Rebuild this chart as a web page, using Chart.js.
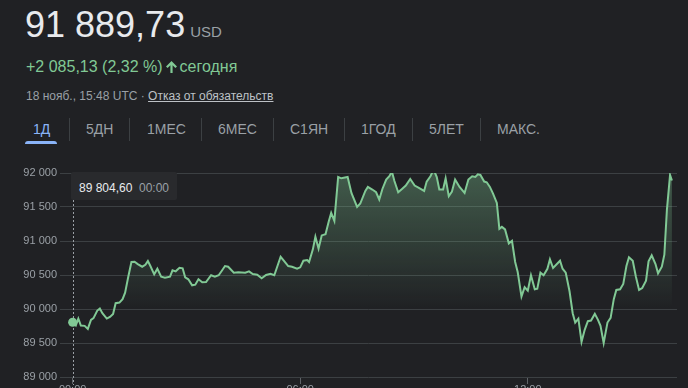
<!DOCTYPE html>
<html lang="ru">
<head>
<meta charset="utf-8">
<script src="https://cdn.jsdelivr.net/npm/chart.js@4.4.1/dist/chart.umd.min.js"></script>
<style>
  html, body { margin: 0; padding: 0; background: #202124; width: 688px; height: 388px; overflow: hidden; }
  body { position: relative; font-family: Arial, "Liberation Sans", sans-serif; }
  .abs { position: absolute; white-space: nowrap; }
  #price { left: 25px; top: 7px; font-size: 36px; line-height: 36px; color: #e8eaed; }
  #price .cur { font-size: 15px; color: #9aa0a6; margin-left: 5px; }
  #change { left: 26px; top: 59px; font-size: 16px; line-height: 16px; color: #81c995; }
  #change svg { vertical-align: -1px; margin: 0 3px 0 3px; }
  #meta { left: 26px; top: 90px; font-size: 12px; line-height: 12px; color: #9aa0a6; }
  #meta a { color: #bdc1c6; text-decoration: underline; }
  .tab { top: 122px; font-size: 14px; line-height: 14px; color: #9aa0a6; }
  .tab.active { color: #8ab4f8; }
  .sep { top: 118px; width: 1px; height: 23px; background: #3c4043; }
  #underline { left: 25px; top: 141px; width: 32px; height: 3px; background: #8ab4f8; border-radius: 3px 3px 0 0; }
  #tip { left: 71px; top: 172px; width: 106px; height: 28px; background: #292a2d; border-radius: 2px; }
  #tip span { position: absolute; top: 10px; font-size: 12px; line-height: 12px; }
  #chartBox { position: absolute; left: 0; top: 150px; width: 688px; height: 250px; }
</style>
</head>
<body>
  <div id="price" class="abs">91 889,73<span class="cur">USD</span></div>
  <div id="change" class="abs">+2 085,13 (2,32 %)<svg width="11" height="12" viewBox="0 0 11 12"><path d="M5.5 0 L11 5.5 L9.4 7 L6.6 4.3 L6.6 12 L4.4 12 L4.4 4.3 L1.6 7 L0 5.5 Z" fill="#81c995"/></svg>сегодня</div>
  <div id="meta" class="abs">18 нояб., 15:48 UTC · <a>Отказ от обязательств</a></div>

  <div id="tabs"></div>
  <div id="underline" class="abs"></div>

  <div id="chartBox"><canvas id="grafica"></canvas></div>

  <div id="tip" class="abs"><span style="left:8px;color:#e8eaed">89 804,60</span><span style="left:68px;color:#9aa0a6">00:00</span></div>

<script>
// Periodos (pestañas) y posiciones de los separadores
const periodos = ['1Д', '5ДН', '1МЕС', '6МЕС', 'С1ЯН', '1ГОД', '5ЛЕТ', 'МАКС.'];
const periodosX = [33, 86, 147, 218, 290, 361, 429, 497];
const separadoresX = [69, 129, 201, 273, 344, 412, 480];

// Datos: minutos desde 00:00 UTC y precio en USD
const minutos = [
  0, 5, 9, 13, 19, 24, 29, 33, 39, 43, 47, 54, 59, 64, 68, 74, 79, 83, 88, 93,
  98, 103, 110, 115, 119, 123, 129, 134, 140, 146, 154, 158, 163, 169, 174, 178, 183, 189, 194, 199,
  205, 211, 219, 225, 231, 236, 241, 246, 255, 262, 273, 279, 285, 292, 299, 306, 313, 319, 329, 334,
  341, 347, 355, 360, 365, 371, 374, 380, 384, 389, 394, 400, 405, 409, 414, 420, 425, 435, 441, 450,
  455, 463, 467, 474, 480, 485, 490, 496, 501, 505, 509, 515, 521, 527, 534, 541, 547, 556, 560, 566,
  571, 576, 580, 586, 590, 595, 600, 605, 612, 620, 626, 632, 637, 641, 645, 651, 655, 660, 665, 671,
  675, 679, 684, 690, 695, 700, 704, 710, 715, 720, 725, 731, 735, 740, 745, 751, 755, 760, 771, 775,
  780, 786, 791, 795, 800, 805, 810, 815, 820, 826, 831, 835, 840, 846, 851, 856, 860, 866, 871, 876,
  880, 886, 891, 896, 901, 907, 911, 916, 922, 926, 932, 936, 940, 945, 948
];
const precios = [
  89804.60, 89757, 89859, 89757, 89752, 89708, 89840, 89865, 89977, 90006, 89938, 89859, 89884, 89928, 90085, 90094, 90144, 90240, 90475, 90691,
  90695, 90661, 90622, 90651, 90705, 90632, 90510, 90592, 90475, 90460, 90475, 90569, 90554, 90607, 90598, 90466, 90437, 90349, 90358, 90437,
  90393, 90397, 90496, 90475, 90496, 90563, 90632, 90622, 90534, 90540, 90534, 90554, 90515, 90504, 90452, 90500, 90519, 90496, 90768, 90710,
  90632, 90622, 90592, 90613, 90710, 90720, 90691, 90877, 91062, 90886, 91082, 91101, 91282, 91413, 91296, 91941, 91922, 91941, 91707, 91501,
  91551, 91736, 91795, 91757, 91717, 91610, 91765, 91903, 91952, 92021, 91883, 91717, 91765, 91815, 91912, 91815, 91786, 91736, 91874, 91952,
  92050, 91941, 91757, 91757, 91922, 91658, 91727, 91903, 91795, 91707, 91903, 91952, 91941, 91981, 91971, 91874, 91864, 91795, 91698, 91560,
  91179, 91208, 91170, 90965, 91003, 90691, 90544, 90182, 90320, 90270, 90496, 90290, 90299, 90534, 90496, 90592, 90730, 90603, 90710, 90592,
  90534, 90261, 89938, 89801, 89859, 89518, 89694, 89821, 89830, 89928, 89840, 89752, 89499, 89801, 89869, 90144, 90280, 90290, 90368, 90632,
  90760, 90710, 90475, 90280, 90309, 90416, 90701, 90789, 90661, 90525, 90622, 90798, 91453, 91971, 91889.73
];

// Ejes
const ticksX = [0, 360, 720];
const etiquetasX = ['00:00', '06:00', '12:00'];
const minY = 89000;
const maxY = 92000;
const pasoY = 500;

const verde = '#81c995';

// Pestañas
const tabs = document.getElementById('tabs');
periodos.forEach((p, i) => {
  const d = document.createElement('div');
  d.className = 'abs tab' + (i === 0 ? ' active' : '');
  d.style.left = periodosX[i] + 'px';
  d.textContent = p;
  tabs.appendChild(d);
});
separadoresX.forEach(x => {
  const s = document.createElement('div');
  s.className = 'abs sep';
  s.style.left = x + 'px';
  tabs.appendChild(s);
});

function formatoMiles(v) {
  return String(v).replace(/\B(?=(\d{3})+(?!\d))/g, ' ');
}

// Línea punteada del cierre anterior (00:00)
const lineaCierre = {
  id: 'lineaCierre',
  beforeDatasetsDraw(chart) {
    const ctx = chart.ctx;
    const x = Math.round(chart.scales.x.getPixelForValue(0)) + 0.5;
    const area = chart.chartArea;
    ctx.save();
    ctx.strokeStyle = '#9aa0a6';
    ctx.lineWidth = 1;
    ctx.setLineDash([2, 2]);
    ctx.beginPath();
    ctx.moveTo(x, area.top + 27);
    ctx.lineTo(x, area.bottom + 8);
    ctx.stroke();
    ctx.restore();
  }
};

new Chart(document.getElementById('grafica'), {
  type: 'line',
  data: {
    datasets: [{
      data: minutos.map((m, i) => ({ x: m, y: precios[i] })),
      borderColor: verde,
      borderWidth: 2,
      tension: 0,
      fill: 'start',
      backgroundColor: (c) => {
        const { chart } = c;
        const area = chart.chartArea;
        if (!area) return 'rgba(129,201,149,0.2)';
        const yFin = chart.scales.y.getPixelForValue(90000);
        const g = chart.ctx.createLinearGradient(0, area.top, 0, yFin);
        g.addColorStop(0, 'rgba(129,201,149,0.35)');
        g.addColorStop(1, 'rgba(129,201,149,0)');
        return g;
      },
      pointRadius: (c) => c.dataIndex === 0 ? 4.5 : 0,
      pointBackgroundColor: verde,
      pointBorderWidth: 0,
      pointHoverRadius: 0
    }]
  },
  options: {
    responsive: true,
    maintainAspectRatio: false,
    animation: false,
    layout: { padding: { top: 23, right: 11, left: 0, bottom: 0 } },
    plugins: { legend: { display: false }, tooltip: { enabled: false } },
    scales: {
      x: {
        type: 'linear',
        min: -20,
        max: 956,
        afterBuildTicks: (s) => { s.ticks = ticksX.map(v => ({ value: v })); },
        afterFit: (s) => { s.height = 23; },
        ticks: {
          callback: (v) => etiquetasX[ticksX.indexOf(v)],
          color: '#9aa0a6',
          font: { family: 'Arial, "Liberation Sans"', size: 11 },
          padding: -1,
          maxRotation: 0,
          autoSkip: false
        },
        grid: { drawOnChartArea: false, drawTicks: true, tickLength: 7, tickColor: '#5f6368' },
        border: { display: false }
      },
      y: {
        min: minY,
        max: maxY,
        afterFit: (s) => { s.width = 60; },
        ticks: {
          stepSize: pasoY,
          callback: (v) => formatoMiles(v),
          color: '#9aa0a6',
          font: { family: 'Arial, "Liberation Sans"', size: 11 },
          padding: 3
        },
        grid: { color: '#3c4043', drawTicks: false },
        border: { display: false }
      }
    }
  },
  plugins: [lineaCierre]
});
</script>
</body>
</html>
